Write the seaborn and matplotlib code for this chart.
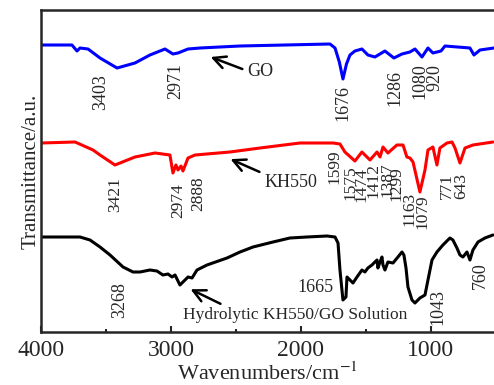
import matplotlib
matplotlib.use('Agg')
import matplotlib.pyplot as plt
import seaborn as sns
import pandas as pd

# FTIR spectra, wavenumber (cm-1) vs transmittance (a.u., curves offset)
go_wn = [4000, 3762, 3723, 3700, 3638, 3546, 3415, 3277, 3162, 3046, 2985, 2946, 2869, 2777,
         2469, 1777, 1738, 1705, 1677, 1650, 1623, 1585, 1531, 1485, 1431, 1354, 1285, 1223,
         1162, 1123, 1069, 1023, 985, 923, 892, 700, 669, 623, 515]
go_t = [287, 287, 281, 284, 283, 274, 264, 269, 277, 283, 278, 279, 283, 284,
        286, 288, 284, 270, 253, 268, 277, 281, 283, 277, 275, 281, 274, 278,
        280, 283, 275, 284, 279, 281, 286, 284, 277, 282, 284]

kh_wn = [4000, 3738, 3600, 3546, 3431, 3277, 3123, 3008, 2985, 2962, 2946, 2923, 2908, 2869,
         2815, 2546, 2315, 2008, 1754, 1700, 1662, 1585, 1531, 1508, 1469, 1415, 1392, 1369,
         1331, 1262, 1215, 1185, 1162, 1138, 1085, 1046, 1023, 985, 954, 931, 877, 838,
         815, 777, 738, 677, 523]
kh_t = [189, 190, 182, 177, 167, 175, 179, 177, 159, 167, 162, 166, 161, 174,
        177, 180, 184, 189, 189, 188, 180, 171, 180, 177, 172, 180, 175, 185,
        179, 187, 187, 175, 174, 170, 140, 162, 182, 185, 167, 184, 189, 190,
        184, 169, 184, 187, 190]

hy_wn = [4000, 3700, 3623, 3546, 3469, 3369, 3292, 3238, 3162, 3108, 3062, 3023, 2992, 2969,
         2931, 2892, 2869, 2838, 2800, 2723, 2569, 2469, 2369, 2215, 2085, 1954, 1800, 1738,
         1715, 1700, 1677, 1654, 1646, 1623, 1600, 1569, 1531, 1508, 1485, 1454, 1431, 1415,
         1408, 1392, 1377, 1369, 1354, 1331, 1292, 1254, 1223, 1208, 1192, 1177, 1146, 1123,
         1085, 1046, 1023, 992, 954, 908, 854, 831, 800, 777, 754, 723, 700, 677, 638, 585, 523]
hy_t = [95, 95, 92, 85, 77, 65, 60, 60, 62, 61, 57, 58, 55, 57,
        47, 52, 55, 54, 62, 67, 74, 80, 85, 90, 94, 95, 96, 95,
        89, 62, 32, 35, 55, 52, 49, 55, 62, 60, 64, 67, 70, 72,
        64, 70, 75, 67, 62, 70, 69, 75, 80, 77, 64, 45, 32, 29,
        34, 37, 52, 72, 80, 87, 94, 92, 84, 77, 75, 80, 72, 82, 90, 94, 97]

# peak labels: (text, x, y)
go_peaks = [("3403", 3538, 240), ("2971", 2962, 251), ("1676", 1677, 229),
            ("1286", 1277, 244), ("1080", 1085, 251), ("920", 969, 254)]
kh_peaks = [("3421", 3431, 137), ("2974", 2946, 131), ("2888", 2792, 138),
            ("1599", 1746, 165), ("1575", 1623, 149), ("1474", 1538, 147),
            ("1412", 1446, 152), ("1387", 1331, 152), ("1299", 1262, 148),
            ("1163", 1162, 123), ("1079", 1062, 120), ("771", 877, 146),
            ("643", 769, 146)]
hy_peaks = [("3268", 3392, 32), ("1043", 946, 25), ("760", 623, 56)]

df = pd.concat([
    pd.DataFrame({"wn": go_wn, "t": go_t, "sample": "GO"}),
    pd.DataFrame({"wn": kh_wn, "t": kh_t, "sample": "KH550"}),
    pd.DataFrame({"wn": hy_wn, "t": hy_t, "sample": "Hydrolytic"}),
])

sns.set_style("ticks")
plt.rcParams['font.family'] = ['Liberation Serif', 'DejaVu Serif']
plt.rcParams['mathtext.fontset'] = 'stix'
plt.rcParams['lines.solid_joinstyle'] = 'round'
plt.rcParams['lines.solid_capstyle'] = 'round'

fig = plt.figure(figsize=(4.94, 3.85), dpi=100)
ax = fig.add_axes([41 / 494, 53 / 385, 453 / 494, 322 / 385])

sns.lineplot(data=df, x="wn", y="t", hue="sample", sort=False, estimator=None,
             palette={"GO": "#0000ff", "KH550": "#ff0000", "Hydrolytic": "black"},
             linewidth=2.2, legend=False, ax=ax)

ax.set_xlim(4000, 515)
ax.set_ylim(0, 322)
ax.set_xticks([4000, 3000, 2000, 1000])
ax.set_xticks([3500, 2500, 1500], minor=True)
ax.set_yticks([])
ax.tick_params(axis='x', which='major', direction='in', length=4, width=1.5,
               labelsize=17, pad=6)
ax.tick_params(axis='x', which='minor', direction='in', length=2.5, width=1.5)
for s in ['left', 'bottom', 'top']:
    ax.spines[s].set_linewidth(1.8)
ax.spines['right'].set_visible(False)

ax.set_xlabel("Wavenumbers/cm$^{-1}$", fontsize=16, labelpad=1)
ax.set_ylabel("Transmittance/a.u.", fontsize=15, labelpad=0)

for peaks in (go_peaks, hy_peaks):
    for txt, x, y in peaks:
        ax.text(x, y, txt, rotation=90, fontsize=13, ha='center', va='center')
# the crowded KH550 labels a touch smaller
for txt, x, y in kh_peaks:
    ax.text(x, y, txt, rotation=90, fontsize=12.5, ha='center', va='center')

ax.text(1885, 45, "1665", fontsize=13, ha='center', va='center')

arrow = dict(arrowstyle='->', lw=1.8, mutation_scale=22, color='black')
ax.annotate("", xy=(2715, 276), xytext=(2431, 262), arrowprops=arrow)
ax.text(2415, 261, "GO", fontsize=13, ha='left', va='center')
ax.annotate("", xy=(2562, 174), xytext=(2300, 159), arrowprops=arrow)
ax.text(2277, 150, "KH550", fontsize=13, ha='left', va='center')
ax.annotate("", xy=(2869, 44), xytext=(2600, 27), arrowprops=arrow)
ax.text(2908, 17, "Hydrolytic KH550/GO Solution", fontsize=12.5, ha='left', va='center')

fig.savefig("out.png", dpi=100)
